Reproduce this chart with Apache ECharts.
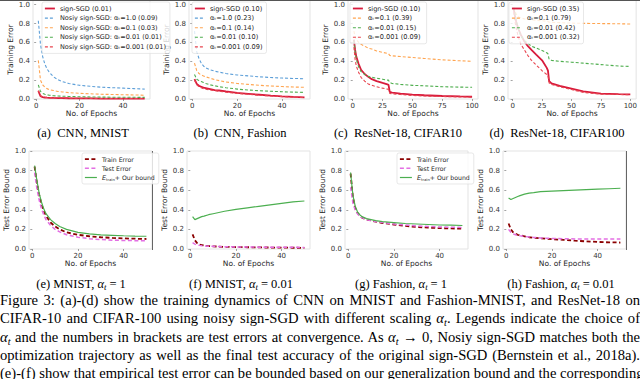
<!DOCTYPE html>
<html>
<head>
<meta charset="utf-8">
<script src="https://cdn.jsdelivr.net/npm/echarts@6/dist/echarts.min.js"></script>
<style>
  html, body { margin: 0; padding: 0; background: #fff; }
  body { width: 640px; height: 379px; position: relative; overflow: hidden; }
  #chart { position: absolute; left: 0; top: 0; width: 640px; height: 379px; }
  .sub {
    position: absolute; transform: translate(-50%, -50%);
    font-family: "Liberation Serif", serif; font-size: 12.5px; color: #000; white-space: nowrap;
  }
  .cap {
    position: absolute; left: 0; width: 640px; height: 18.3px; line-height: 18.3px;
    font-family: "Liberation Serif", serif; font-size: 14.6px; color: #000;
    text-align: justify; text-align-last: justify; white-space: nowrap;
  }
  sub { font-size: 70%; vertical-align: -0.25em; line-height: 0; }
  .eq { margin: 0 3px; }
</style>
</head>
<body>
<div id="chart"></div>

<div class="sub" style="left:83px;top:133px">(a)&nbsp; CNN, MNIST</div>
<div class="sub" style="left:240px;top:133px">(b)&nbsp; CNN, Fashion</div>
<div class="sub" style="left:398px;top:133px">(c)&nbsp; ResNet-18, CIFAR10</div>
<div class="sub" style="left:557px;top:133px">(d)&nbsp; ResNet-18, CIFAR100</div>

<div class="sub" style="left:81px;top:284px">(e) MNIST, <i>α<sub>t</sub></i><span class="eq">=</span>1</div>
<div class="sub" style="left:241px;top:284px">(f) MNIST, <i>α<sub>t</sub></i><span class="eq">=</span>0.01</div>
<div class="sub" style="left:401px;top:284px">(g) Fashion, <i>α<sub>t</sub></i><span class="eq">=</span>1</div>
<div class="sub" style="left:561px;top:284px">(h) Fashion, <i>α<sub>t</sub></i><span class="eq">=</span>0.01</div>

<div class="cap" style="top:291px">Figure 3: (a)-(d) show the training dynamics of CNN on MNIST and Fashion-MNIST, and ResNet-18 on</div>
<div class="cap" style="top:309.3px">CIFAR-10 and CIFAR-100 using noisy sign-SGD with different scaling <i>α<sub>t</sub></i>. Legends indicate the choice of</div>
<div class="cap" style="top:327.6px"><i>α<sub>t</sub></i> and the numbers in brackets are test errors at convergence. As <i>α<sub>t</sub></i> → 0, Nosiy sign-SGD matches both the</div>
<div class="cap" style="top:345.9px">optimization trajectory as well as the final test accuracy of the original sign-SGD (Bernstein et al., 2018a).</div>
<div class="cap" style="top:364.2px">(e)-(f) show that empirical test error can be bounded based on our generalization bound and the corresponding</div>

<script>
// epochs sampled from the curves
const epochs50 = [1, 2, 3, 4, 5, 6, 8, 10, 12, 15, 20, 25, 30, 35, 40, 45, 50];
const epochs100 = [1, 2, 3, 5, 7, 10, 13, 16, 20, 25, 29, 30, 31, 33, 40, 50, 60, 75, 90, 100];

// (a) CNN, MNIST - training error
const aSign = [0.085, 0.03, 0.02, 0.016, 0.014, 0.013, 0.011, 0.01, 0.009, 0.008, 0.007, 0.006, 0.005, 0.005, 0.004, 0.004, 0.004];
const aA1 = [0.83, 0.58, 0.45, 0.37, 0.32, 0.285, 0.235, 0.205, 0.185, 0.165, 0.145, 0.135, 0.125, 0.12, 0.115, 0.11, 0.105];
const aA01 = [0.41, 0.2, 0.15, 0.125, 0.11, 0.1, 0.09, 0.08, 0.075, 0.068, 0.06, 0.055, 0.05, 0.048, 0.045, 0.043, 0.04];
const aA001 = [0.15, 0.08, 0.06, 0.05, 0.045, 0.04, 0.035, 0.032, 0.03, 0.027, 0.024, 0.022, 0.02, 0.019, 0.018, 0.018, 0.017];
const aA0001 = [0.09, 0.035, 0.025, 0.02, 0.017, 0.015, 0.013, 0.011, 0.01, 0.009, 0.008, 0.007, 0.006, 0.006, 0.005, 0.005, 0.005];

// (b) CNN, Fashion
const bSign = [0.21, 0.16, 0.14, 0.13, 0.12, 0.115, 0.105, 0.095, 0.09, 0.08, 0.065, 0.055, 0.045, 0.035, 0.028, 0.022, 0.018];
const bA1 = [0.72, 0.5, 0.43, 0.38, 0.35, 0.33, 0.31, 0.295, 0.285, 0.27, 0.255, 0.245, 0.235, 0.228, 0.222, 0.218, 0.215];
const bA01 = [0.38, 0.3, 0.27, 0.255, 0.245, 0.235, 0.22, 0.205, 0.195, 0.18, 0.165, 0.155, 0.145, 0.138, 0.132, 0.127, 0.124];
const bA001 = [0.26, 0.21, 0.195, 0.185, 0.175, 0.165, 0.15, 0.14, 0.13, 0.12, 0.105, 0.095, 0.088, 0.082, 0.077, 0.073, 0.07];
const bA0001 = [0.2, 0.15, 0.13, 0.12, 0.11, 0.105, 0.095, 0.088, 0.082, 0.072, 0.06, 0.05, 0.04, 0.032, 0.025, 0.02, 0.016];

// (c) ResNet-18, CIFAR10
const cSign = [0.63, 0.52, 0.45, 0.37, 0.31, 0.265, 0.235, 0.21, 0.19, 0.17, 0.155, 0.15, 0.075, 0.068, 0.058, 0.047, 0.04, 0.032, 0.027, 0.024];
const cA01 = [0.72, 0.66, 0.63, 0.6, 0.58, 0.56, 0.54, 0.53, 0.51, 0.495, 0.485, 0.48, 0.462, 0.458, 0.45, 0.44, 0.43, 0.415, 0.405, 0.4];
const cA001 = [0.62, 0.5, 0.42, 0.34, 0.29, 0.26, 0.24, 0.23, 0.22, 0.21, 0.2, 0.2, 0.175, 0.165, 0.155, 0.145, 0.14, 0.13, 0.126, 0.124];
const cA0001 = [0.55, 0.42, 0.35, 0.28, 0.23, 0.19, 0.16, 0.145, 0.13, 0.115, 0.105, 0.1, 0.06, 0.055, 0.047, 0.038, 0.032, 0.026, 0.022, 0.02];

// (d) ResNet-18, CIFAR100
const dSign = [0.95, 0.88, 0.82, 0.74, 0.68, 0.61, 0.56, 0.52, 0.47, 0.41, 0.33, 0.3, 0.19, 0.165, 0.14, 0.11, 0.08, 0.058, 0.052, 0.05];
const dA01 = [0.97, 0.93, 0.9, 0.87, 0.86, 0.85, 0.845, 0.84, 0.835, 0.83, 0.825, 0.822, 0.815, 0.813, 0.81, 0.805, 0.802, 0.8, 0.798, 0.795];
const dA001 = [0.97, 0.9, 0.83, 0.73, 0.67, 0.62, 0.59, 0.56, 0.54, 0.515, 0.49, 0.48, 0.42, 0.41, 0.4, 0.39, 0.38, 0.365, 0.35, 0.345];
const dA0001 = [0.92, 0.82, 0.75, 0.65, 0.58, 0.52, 0.46, 0.41, 0.36, 0.3, 0.26, 0.25, 0.17, 0.155, 0.13, 0.1, 0.07, 0.052, 0.048, 0.045];

// (e) MNIST, alpha = 1
const eBound = [0.85, 0.7, 0.57, 0.48, 0.41, 0.36, 0.3, 0.26, 0.23, 0.2, 0.17, 0.155, 0.145, 0.14, 0.135, 0.132, 0.13];
const eTrain = [0.84, 0.68, 0.55, 0.46, 0.39, 0.34, 0.27, 0.23, 0.2, 0.17, 0.145, 0.13, 0.12, 0.113, 0.108, 0.105, 0.102];
const eTest = [0.78, 0.62, 0.5, 0.41, 0.35, 0.3, 0.24, 0.2, 0.175, 0.145, 0.12, 0.105, 0.097, 0.09, 0.087, 0.085, 0.083];

// (f) MNIST, alpha = 0.01
const fBound = [0.33, 0.3, 0.31, 0.32, 0.33, 0.335, 0.35, 0.36, 0.37, 0.385, 0.405, 0.42, 0.435, 0.45, 0.465, 0.48, 0.49];
const fTrain = [0.15, 0.09, 0.06, 0.045, 0.04, 0.035, 0.03, 0.027, 0.025, 0.022, 0.02, 0.018, 0.016, 0.015, 0.014, 0.013, 0.012];
const fTest = [0.065, 0.05, 0.042, 0.037, 0.034, 0.032, 0.029, 0.027, 0.025, 0.023, 0.021, 0.02, 0.019, 0.018, 0.017, 0.017, 0.016];

// (g) Fashion, alpha = 1
const gBound = [0.78, 0.55, 0.44, 0.38, 0.35, 0.33, 0.31, 0.3, 0.29, 0.28, 0.27, 0.26, 0.255, 0.25, 0.245, 0.243, 0.24];
const gTrain = [0.77, 0.53, 0.42, 0.37, 0.34, 0.32, 0.3, 0.29, 0.28, 0.265, 0.25, 0.235, 0.225, 0.218, 0.213, 0.21, 0.207];
const gTest = [0.63, 0.47, 0.4, 0.36, 0.335, 0.32, 0.3, 0.29, 0.28, 0.27, 0.255, 0.245, 0.235, 0.23, 0.225, 0.222, 0.22];

// (h) Fashion, alpha = 0.01
const hBound = [0.52, 0.505, 0.515, 0.525, 0.535, 0.545, 0.56, 0.57, 0.575, 0.585, 0.59, 0.595, 0.6, 0.605, 0.61, 0.615, 0.62];
const hTrain = [0.26, 0.2, 0.17, 0.155, 0.145, 0.14, 0.13, 0.12, 0.115, 0.11, 0.1, 0.093, 0.085, 0.078, 0.072, 0.068, 0.066];
const hTest = [0.2, 0.17, 0.155, 0.145, 0.14, 0.135, 0.128, 0.122, 0.118, 0.113, 0.108, 0.105, 0.103, 0.102, 0.102, 0.102, 0.102];

const yTicks = [0, 0.2, 0.4, 0.6, 0.8, 1.0];
const xTicks50 = [0, 20, 40];
const xTicks100 = [0, 25, 50, 75, 100];

const SANS = 'DejaVu Sans';
const styles = {
  sign: { color: '#d81b3c', width: 1.8, type: 'solid' },
  blue: { color: '#5d9fd8', width: 1.1, type: [3, 2] },
  orange: { color: '#ffa551', width: 1.1, type: [3, 2] },
  green: { color: '#4fae4f', width: 1.1, type: [3, 2] },
  red: { color: '#e8454f', width: 1.1, type: [3, 2] },
  train: { color: '#8b0000', width: 1.8, type: [4, 2.5] },
  test: { color: '#e36fe3', width: 1.5, type: [4, 2.5] },
  bound: { color: '#4caf50', width: 1.2, type: 'solid' }
};

const BOUND = 'E_train+ Our bound';
// one entry per subplot: frame position, x range, y range, lines
const panels = [
  { left: 33, top: 0, width: 117, height: 99, xMax: 52.45, xMin: -1.45, xTicks: xTicks50, yMax: 1.05, yName: 'Training Error',
    lines: [['sign-SGD (0.01)', epochs50, aSign, 'sign'], ['Nosiy sign-SGD: αₜ=1.0 (0.09)', epochs50, aA1, 'blue'],
            ['Nosiy sign-SGD: αₜ=0.1 (0.03)', epochs50, aA01, 'orange'], ['Nosiy sign-SGD: αₜ=0.01 (0.01)', epochs50, aA001, 'green'],
            ['Nosiy sign-SGD: αₜ=0.001 (0.01)', epochs50, aA0001, 'red']],
    legend: { left: 42, top: 2, icon: 10, font: 6.5 } },
  { left: 189, top: 0, width: 121, height: 99, xMax: 52.45, xMin: -1.45, xTicks: xTicks50, yMax: 1.05, yName: 'Training Error',
    lines: [['sign-SGD (0.10)', epochs50, bSign, 'sign'], ['αₜ=1.0 (0.23)', epochs50, bA1, 'blue'],
            ['αₜ=0.1 (0.14)', epochs50, bA01, 'orange'], ['αₜ=0.01 (0.10)', epochs50, bA001, 'green'],
            ['αₜ=0.001 (0.09)', epochs50, bA0001, 'red']],
    legend: { left: 192, top: 2, icon: 10, font: 6.6 } },
  { left: 348, top: 0, width: 130, height: 99, xMax: 104.95, xMin: -3.95, xTicks: xTicks100, yMax: 1.05, yName: 'Training Error',
    lines: [['sign-SGD (0.10)', epochs100, cSign, 'sign'], ['αₜ=0.1 (0.39)', epochs100, cA01, 'orange'],
            ['αₜ=0.01 (0.15)', epochs100, cA001, 'green'], ['αₜ=0.001 (0.09) ', epochs100, cA0001, 'red']],
    legend: { left: 350, top: 2, icon: 10, font: 6.6 } },
  { left: 508, top: 0, width: 130, height: 99, xMax: 104.95, xMin: -3.95, xTicks: xTicks100, yMax: 1.05, yName: 'Training Error',
    lines: [['sign-SGD (0.35)', epochs100, dSign, 'sign'], ['αₜ=0.1 (0.79)', epochs100, dA01, 'orange'],
            ['αₜ=0.01 (0.42)', epochs100, dA001, 'green'], ['αₜ=0.001 (0.32)', epochs100, dA0001, 'red']],
    legend: { left: 509, top: 2, icon: 10, font: 6.6 } },
  { left: 29, top: 151, width: 123, height: 98, xMax: 52.45, xMin: -1.45, xTicks: xTicks50, yMax: 1, yName: 'Test Error Bound',
    lines: [['Train Error', epochs50, eTrain, 'train'], ['Test Error', epochs50, eTest, 'test'], [BOUND, epochs50, eBound, 'bound']],
    legend: { left: 82, top: 153, icon: 12, font: 6.2 }, darkRight: true },
  { left: 187, top: 151, width: 123, height: 98, xMax: 52.45, xMin: -1.45, xTicks: xTicks50, yMax: 1, yName: 'Test Error Bound',
    lines: [['Train Error', epochs50, fTrain, 'train'], ['Test Error', epochs50, fTest, 'test'], [BOUND, epochs50, fBound, 'bound']] },
  { left: 345, top: 151, width: 123, height: 98, xMax: 52.45, xMin: -1.45, xTicks: xTicks50, yMax: 1, yName: 'Test Error Bound',
    lines: [['Train Error', epochs50, gTrain, 'train'], ['Test Error', epochs50, gTest, 'test'], [BOUND, epochs50, gBound, 'bound']],
    legend: { left: 397, top: 153, icon: 12, font: 6.2 } },
  { left: 503, top: 151, width: 123, height: 98, xMax: 52.45, xMin: -1.45, xTicks: xTicks50, yMax: 1, yName: 'Test Error Bound',
    lines: [['Train Error', epochs50, hTrain, 'train'], ['Test Error', epochs50, hTest, 'test'], [BOUND, epochs50, hBound, 'bound']],
    darkRight: true }
];

const grid = [], xAxis = [], yAxis = [], series = [], legend = [];
const graphic = [
  // dark rule along the very top of the page
  { type: 'line', shape: { x1: 0, y1: 0.5, x2: 640, y2: 0.5 }, style: { stroke: '#555', lineWidth: 1 }, silent: true }
];

panels.forEach(function (p, i) {
  grid.push({ left: p.left, top: p.top, width: p.width, height: p.height, show: true,
              borderColor: '#e3e3e3', borderWidth: 1, backgroundColor: '#fff' });
  if (p.darkRight) {
    const x = p.left + p.width + 0.5;
    graphic.push({ type: 'line', shape: { x1: x, y1: p.top, x2: x, y2: p.top + p.height + 1 },
                   style: { stroke: '#666', lineWidth: 1 }, silent: true, z: 5 });
  }
  xAxis.push({
    type: 'value', gridIndex: i, min: p.xMin, max: p.xMax,
    name: 'No. of Epochs', nameLocation: 'middle', nameGap: 10,
    nameTextStyle: { fontFamily: SANS, fontSize: 7.5, color: '#262626' },
    axisLine: { show: false }, splitLine: { show: false },
    axisTick: { show: true, length: 2, lineStyle: { color: '#666', width: 0.6 }, customValues: p.xTicks },
    axisLabel: { fontFamily: SANS, fontSize: 7, color: '#333', margin: 3, customValues: p.xTicks }
  });
  yAxis.push({
    type: 'value', gridIndex: i, min: 0, max: p.yMax,
    name: p.yName, nameLocation: 'middle', nameGap: 16,
    nameTextStyle: { fontFamily: SANS, fontSize: 7.5, color: '#262626' },
    axisLine: { show: false }, splitLine: { show: false },
    axisTick: { show: true, length: 2, lineStyle: { color: '#666', width: 0.6 }, customValues: yTicks },
    axisLabel: { fontFamily: SANS, fontSize: 7, color: '#333', margin: 3, customValues: yTicks,
                 formatter: function (v) { return v.toFixed(1); } }
  });
  p.lines.forEach(function (ln, k) {
    const st = styles[ln[3]];
    series.push({
      type: 'line', name: ln[0], xAxisIndex: i, yAxisIndex: i,
      data: ln[1].map(function (x, j) { return [x, ln[2][j]]; }),
      symbol: 'none', showSymbol: false, silent: true, z: 2 + k,
      lineStyle: { color: st.color, width: st.width, type: st.type },
      itemStyle: { color: st.color }
    });
  });
  if (p.legend) {
    const fs = p.legend.font;
    legend.push({
      orient: 'vertical', left: p.legend.left, top: p.legend.top,
      itemWidth: p.legend.icon, itemHeight: 6, itemGap: 2.6, padding: [3, 4, 3, 2],
      backgroundColor: 'rgba(255,255,255,0.8)', borderColor: '#d8d8d8', borderWidth: 0.6, borderRadius: 2,
      selectedMode: false, z: 10,
      textStyle: { fontFamily: SANS, fontSize: fs, lineHeight: 6.4, color: '#262626',
        rich: { e: { fontFamily: SANS, fontSize: fs + 0.3, fontStyle: 'italic', color: '#262626' },
                s: { fontFamily: SANS, fontSize: fs - 2.4, color: '#262626', padding: [3, 0, 0, 0] },
                t: { fontFamily: SANS, fontSize: fs, color: '#262626' } } },
      formatter: function (name) {
        return name === BOUND ? '{e|E}{s|train}{t|+ Our bound}' : name;
      },
      data: p.lines.map(function (ln) {
        const st = styles[ln[3]];
        return { name: ln[0], itemStyle: { opacity: 0 },
                 lineStyle: { width: st.width, type: st.type, color: st.color } };
      })
    });
  }
});

const chart = echarts.init(document.getElementById('chart'), null, { renderer: 'svg' });
chart.setOption({
  animation: false,
  backgroundColor: '#fff',
  grid: grid, xAxis: xAxis, yAxis: yAxis, series: series, legend: legend, graphic: graphic
});
</script>
</body>
</html>
